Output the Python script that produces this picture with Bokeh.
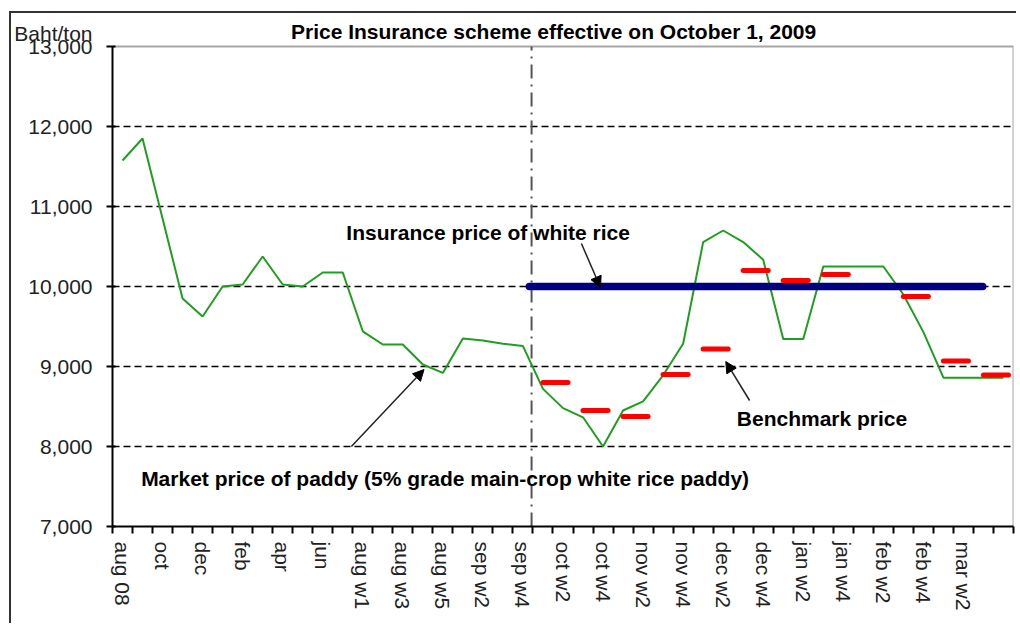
from bokeh.plotting import figure
from bokeh.models import (Range1d, FixedTicker, NumeralTickFormatter, Label, LinearAxis,
                          Arrow, NormalHead, ColumnDataSource)
from bokeh.embed import file_html
from bokeh.resources import INLINE

# ---------------- data ----------------
categories = ["aug 08", "sep", "oct", "nov", "dec", "jan", "feb", "mar", "apr", "may",
              "jun", "jul", "aug w1", "aug w2", "aug w3", "aug w4", "aug w5", "sep w1",
              "sep w2", "sep w3", "sep w4", "oct w1", "oct w2", "oct w3", "oct w4",
              "nov w1", "nov w2", "nov w3", "nov w4", "dec w1", "dec w2", "dec w3",
              "dec w4", "jan w1", "jan w2", "jan w3", "jan w4", "feb w1", "feb w2",
              "feb w3", "feb w4", "mar w1", "mar w2", "mar w3", "mar w4"]

market_price = [11575, 11850, 10850, 9850, 9625, 10000, 10025, 10375, 10025, 10000,
                10175, 10175, 9440, 9275, 9275, 9025, 8920, 9350, 9325, 9285,
                9255, 8720, 8480, 8365, 8000, 8450, 8565, 8890, 9285, 10555,
                10700, 10555, 10335, 9345, 9345, 10250, 10250, 10250, 10250, 9900,
                9430, 8860, 8860, 8860, 8860]

bench_idx = [21, 23, 25, 27, 29, 31, 33, 35, 39, 41, 43]
bench_price = [8800, 8450, 8375, 8900, 9220, 10200, 10075, 10150, 9875, 9070, 8895]

insurance_x = [20.32, 42.96]
insurance_price = [10000, 10000]

scheme_start = 20.43

y_min, y_max = 7000, 13000
y_ticks = [7000, 8000, 9000, 10000, 11000, 12000, 13000]
grid_levels = [8000, 9000, 10000, 11000, 12000]
label_idx = list(range(0, 43, 2))

title_text = "Price Insurance scheme effective on October 1, 2009"
title_pos = (21.53, 13187)
unit_text = "Baht/ton"
unit_pos = 13162
ann_texts = ["Insurance price of white rice", "Benchmark price",
             "Market price of paddy (5% grade main-crop white rice paddy)"]
ann_x = [11.18, 30.68, 0.93]
ann_y = [10675, 8350, 7600]

arrow_x0 = [22.92, 31.32, 11.43]
arrow_y0 = [10537, 8575, 8000]
arrow_x1 = [23.87, 30.13, 15.06]
arrow_y1 = [9987, 9062, 8962]

FONT = "Liberation Sans"
x_lo, x_hi = -0.5, len(categories) - 0.5

# ---------------- figure ----------------
# the frame reaches up to the chart's top edge, so the title sits inside it
p = figure(width=1007, height=612, output_backend="svg", toolbar_location=None,
           x_range=Range1d(x_lo, x_hi), y_range=Range1d(y_min, 13412.5),
           min_border_left=97, min_border_right=5, min_border_top=0,
           min_border_bottom=99, margin=(11, 0, 0, 9),
           styles={"border-top": "2px solid #333333", "border-left": "2px solid #333333"})

p.background_fill_color = "white"
p.border_fill_color = "white"
p.outline_line_color = None

# grid
p.xgrid.visible = False
p.ygrid.ticker = FixedTicker(ticks=grid_levels)
p.ygrid.grid_line_color = "black"
p.ygrid.grid_line_width = 1.6
p.ygrid.grid_line_dash = "7 4"

# plot-area border (top and right, grey)
p.line(x=[x_lo, x_hi, x_hi], y=[y_max, y_max, y_min], line_color="#a6a6a6", line_width=2)

# y axis: line and ticks
ya = p.yaxis[0]
ya.bounds = (y_min, y_max)
ya.ticker = FixedTicker(ticks=y_ticks)
ya.major_label_overrides = {t: "" for t in y_ticks}
ya.major_tick_out = 6
ya.major_tick_in = 3
ya.major_label_standoff = 0
ya.axis_line_color = "black"
ya.axis_line_width = 2
ya.major_tick_line_color = "black"
ya.major_tick_line_width = 2
ya.minor_tick_line_color = None

# y axis labels (and the unit caption) on a second, line-less axis
yl = LinearAxis(ticker=FixedTicker(ticks=y_ticks + [unit_pos]),
                formatter=NumeralTickFormatter(format="0,0"),
                major_label_overrides={unit_pos: unit_text},
                axis_line_color=None, major_tick_line_color=None,
                minor_tick_line_color=None, major_tick_out=0, major_tick_in=0,
                major_label_standoff=14, major_label_text_font=FONT,
                major_label_text_font_size="21px", major_label_text_color="#222222")
p.add_layout(yl, "left")

# x axis
xa = p.xaxis[0]
xa.ticker = FixedTicker(ticks=label_idx,
                        minor_ticks=[i - 0.5 for i in range(len(categories) + 1)])
xa.major_label_overrides = {i: categories[i] for i in label_idx}
xa.major_tick_out = 0
xa.major_tick_in = 0
xa.minor_tick_out = 7
xa.minor_tick_in = 0
xa.major_label_orientation = "vertical"
xa.major_label_standoff = 8
xa.axis_line_color = "black"
xa.axis_line_width = 2
xa.minor_tick_line_color = "black"
xa.minor_tick_line_width = 2
xa.major_label_text_font = FONT
xa.major_label_text_font_size = "21px"
xa.major_label_text_color = "#222222"

# scheme start line
p.line(x=[scheme_start, scheme_start], y=[y_min, y_max], line_color="#555555",
       line_width=2, line_dash="14 6 2 6")

# market price line
p.line(x=list(range(len(categories))), y=market_price, line_color="#1f9e1f", line_width=2)

# insurance price
p.line(x=insurance_x, y=insurance_price, line_color="#000080", line_width=7.5,
       line_cap="round")

# benchmark dashes
bsrc = ColumnDataSource(dict(x0=bench_idx, x1=[i + 1.25 for i in bench_idx], y=bench_price))
p.segment(x0="x0", y0="y", x1="x1", y1="y", source=bsrc, line_color="#ff0000",
          line_width=5, line_cap="round")

# title
p.add_layout(Label(x=title_pos[0], y=title_pos[1], text=title_text, text_font=FONT,
                   text_font_size="21px", text_font_style="bold", text_color="black",
                   text_baseline="middle", text_align="center"))

# annotations
for t, x, y in zip(ann_texts, ann_x, ann_y):
    p.add_layout(Label(x=x, y=y, text=t, text_font=FONT, text_font_size="21px",
                       text_font_style="bold", text_color="black",
                       text_baseline="middle", text_align="left"))

for xs, ys, xe, ye in zip(arrow_x0, arrow_y0, arrow_x1, arrow_y1):
    p.add_layout(Arrow(x_start=xs, y_start=ys, x_end=xe, y_end=ye,
                       line_color="#222222", line_width=1.5,
                       end=NormalHead(size=11, fill_color="black", line_color="black")))

open("out.html", "w").write(file_html(p, INLINE))
